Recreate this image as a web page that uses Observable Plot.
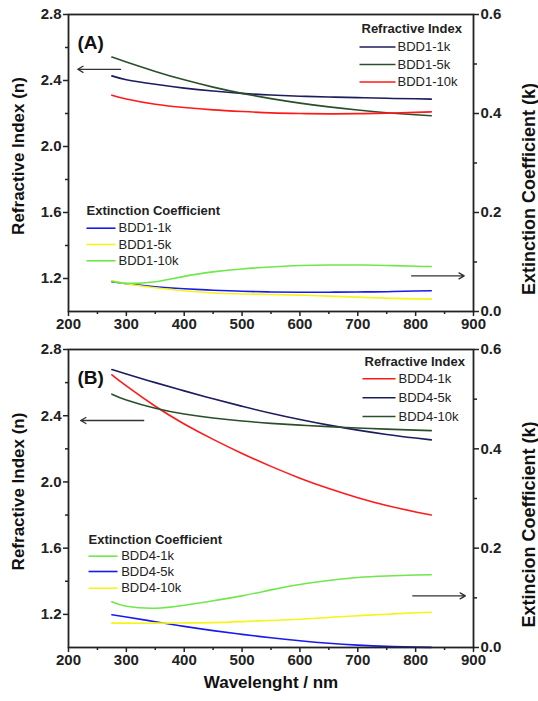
<!DOCTYPE html>
<html><head><meta charset="utf-8">
<script src="https://cdn.jsdelivr.net/npm/d3@7"></script>
<script src="https://cdn.jsdelivr.net/npm/@observablehq/plot@0.6"></script>
<style>
body{margin:0;background:#fff;}
#wrap{position:relative;width:538px;height:701px;font-family:"Liberation Sans",Arial,sans-serif;}
#wrap svg{position:absolute;left:0;overflow:visible;}
</style></head><body><div id="wrap"></div>
<script>
// ---------- data ----------
const wavelength = [275, 300, 350, 400, 450, 500, 550, 600, 650, 700, 750, 800, 827];

// Panel A – refractive index n
const nBDD1_1k  = [2.428, 2.405, 2.377, 2.354, 2.336, 2.322, 2.312, 2.305, 2.300, 2.296, 2.292, 2.289, 2.287];
const nBDD1_5k  = [2.542, 2.512, 2.455, 2.404, 2.360, 2.322, 2.290, 2.263, 2.240, 2.221, 2.205, 2.192, 2.186];
const nBDD1_10k = [2.311, 2.288, 2.256, 2.236, 2.222, 2.212, 2.204, 2.200, 2.198, 2.199, 2.202, 2.207, 2.210];
// Panel A – extinction coefficient k
const kBDD1_1k  = [0.060, 0.056, 0.050, 0.046, 0.043, 0.041, 0.0395, 0.039, 0.039, 0.0395, 0.040, 0.0415, 0.042];
const kBDD1_5k  = [0.062, 0.056, 0.048, 0.042, 0.0375, 0.0355, 0.0343, 0.033, 0.031, 0.029, 0.027, 0.0255, 0.025];
const kBDD1_10k = [0.061, 0.057, 0.060, 0.071, 0.080, 0.086, 0.090, 0.093, 0.094, 0.094, 0.093, 0.0915, 0.091];

// Panel B – refractive index n
const nBDD4_1k  = [2.647, 2.580, 2.457, 2.350, 2.257, 2.172, 2.094, 2.023, 1.960, 1.905, 1.858, 1.819, 1.800];
const nBDD4_5k  = [2.679, 2.652, 2.600, 2.550, 2.502, 2.457, 2.415, 2.377, 2.343, 2.313, 2.287, 2.265, 2.254];
const nBDD4_10k = [2.530, 2.495, 2.445, 2.410, 2.386, 2.368, 2.354, 2.343, 2.334, 2.326, 2.319, 2.313, 2.310];
// Panel B – extinction coefficient k
const kBDD4_1k  = [0.092, 0.083, 0.079, 0.085, 0.094, 0.104, 0.116, 0.127, 0.135, 0.141, 0.144, 0.146, 0.1466];
const kBDD4_5k  = [0.066, 0.0615, 0.052, 0.0425, 0.034, 0.0265, 0.0195, 0.0135, 0.0085, 0.0048, 0.0022, 0.0007, 0.0002];
const kBDD4_10k = [0.049, 0.049, 0.049, 0.0495, 0.050, 0.052, 0.0545, 0.057, 0.0605, 0.064, 0.067, 0.070, 0.071];

// ticks
const xTicks = [200, 300, 400, 500, 600, 700, 800, 900];
const xMinor = [250, 350, 450, 550, 650, 750, 850];
const nTicks = [1.2, 1.6, 2.0, 2.4, 2.8];
const nMinor = [1.4, 1.8, 2.2, 2.6];
const kTicks = [0.0, 0.2, 0.4, 0.6];
const kMinor = [0.1, 0.3, 0.5];

// arrows (data units: wavelength, and n or k)
const arrowsA = [{x1: 290, x2: 216, axis: "n", v: 2.468}, {x1: 793, x2: 884, axis: "k", v: 0.072}];
const arrowsB = [{x1: 330, x2: 221, axis: "n", v: 2.371}, {x1: 795, x2: 886, axis: "k", v: 0.104}];

// ---------- styles ----------
const NAVY = "#1c1c5e", DKGREEN = "#2a4f2a", RED = "#ff1a1a", BLUE = "#1a1aee", YELLOW = "#f5f51a", LGREEN = "#6ee84a";

const panels = [
  {
    tag: "(A)", top: 0, height: 335, mTop: 14, mBottom: 24, rightTitle: "Extinction Coefficient (k)", xTitle: null,
    n: [["BDD1-1k", nBDD1_1k, NAVY], ["BDD1-5k", nBDD1_5k, DKGREEN], ["BDD1-10k", nBDD1_10k, RED]],
    k: [["BDD1-1k", kBDD1_1k, BLUE], ["BDD1-5k", kBDD1_5k, YELLOW], ["BDD1-10k", kBDD1_10k, LGREEN]],
    arrows: arrowsA,
    legN: {title: [361, 28], line: [359, 395], text: 397, rows: [46.5, 64, 81.5]},
    legK: {title: [86, 210.7], line: [86, 115], text: 118, rows: [227.7, 244, 260.3]}
  },
  {
    tag: "(B)", top: 335, height: 366, mTop: 14, mBottom: 54, rightTitle: "Extincion Coefficient (k)", xTitle: "Wavelenght / nm",
    n: [["BDD4-1k", nBDD4_1k, RED], ["BDD4-5k", nBDD4_5k, NAVY], ["BDD4-10k", nBDD4_10k, DKGREEN]],
    k: [["BDD4-1k", kBDD4_1k, LGREEN], ["BDD4-5k", kBDD4_5k, BLUE], ["BDD4-10k", kBDD4_10k, YELLOW]],
    arrows: arrowsB,
    legN: {title: [364, 361], line: [362, 395], text: 398, rows: [378.3, 397.3, 416]},
    legK: {title: [88, 539], line: [88, 117], text: 120.7, rows: [555.7, 571, 587.7]}
  }
];

const W = 538, mL = 68, mR = 65;
const kToN = k => 1 + k * 3; // k-axis [0,0.6] shares the frame with n-axis [1.0,2.8]
const FONT = "Liberation Sans, Arial, sans-serif";

const wrap = document.getElementById("wrap");

for (const p of panels) {
  const plotH = p.height - p.mTop - p.mBottom;
  // page pixel -> data (for in-frame annotations)
  const pxToX = px => 200 + (px - mL) / (W - mL - mR) * 700;
  const pyToN = py => 2.8 - (py - p.top - p.mTop) / plotH * 1.8;

  const rows = [];
  for (const [name, vals] of p.n) wavelength.forEach((w, i) => rows.push({s: "n" + name, x: w, y: vals[i]}));
  for (const [name, vals] of p.k) wavelength.forEach((w, i) => rows.push({s: "k" + name, x: w, y: kToN(vals[i])}));
  const colorDomain = [...p.n.map(d => "n" + d[0]), ...p.k.map(d => "k" + d[0])];
  const colorRange = [...p.n.map(d => d[2]), ...p.k.map(d => d[2])];

  const legendMarks = [];
  for (const [leg, entries, title] of [[p.legN, p.n, "Refractive Index"], [p.legK, p.k, "Extinction Coefficient"]]) {
    legendMarks.push(Plot.text([title], {x: pxToX(leg.title[0]), y: pyToN(leg.title[1]), text: d => d, textAnchor: "start",
      fontSize: 13, fontWeight: "bold", fill: "#222"}));
    const items = entries.map((e, i) => ({label: e[0], color: e[2], row: leg.rows[i]}));
    legendMarks.push(Plot.link(items, {x1: pxToX(leg.line[0]), x2: pxToX(leg.line[1]), y1: d => pyToN(d.row), y2: d => pyToN(d.row),
      stroke: d => d.color, strokeWidth: 1.6}));
    legendMarks.push(Plot.text(items, {x: pxToX(leg.text), y: d => pyToN(d.row), text: "label", textAnchor: "start",
      fontSize: 13, fill: "#222"}));
  }

  const chart = Plot.plot({
    width: W, height: p.height,
    marginLeft: mL, marginRight: mR, marginTop: p.mTop, marginBottom: p.mBottom,
    style: {fontFamily: FONT, color: "#222", background: "transparent", overflow: "visible"},
    x: {domain: [200, 900]},
    y: {domain: [1.0, 2.8]},
    color: {domain: colorDomain, range: colorRange},
    marks: [
      Plot.line(rows, {x: "x", y: "y", z: "s", stroke: "s", strokeWidth: 1.6, curve: "natural"}),
      Plot.arrow(p.arrows, {x1: "x1", x2: "x2", y1: d => d.axis === "n" ? d.v : kToN(d.v), y2: d => d.axis === "n" ? d.v : kToN(d.v),
        stroke: "#333", strokeWidth: 1.3, headLength: 7}),
      ...legendMarks,
      Plot.frame({stroke: "#222", strokeWidth: 1.8}),
      Plot.axisX({ticks: xTicks, tickSize: 5, tickPadding: 2, tickFormat: d => String(d), label: null, fontSize: 15, fontWeight: "bold", strokeWidth: 1.5}),
      Plot.axisX({ticks: xMinor, tickSize: 3, tickFormat: () => "", label: null, strokeWidth: 1.5}),
      Plot.axisY({ticks: nTicks, tickSize: 5, tickPadding: 2, tickFormat: d => d.toFixed(1), label: null, fontSize: 15, fontWeight: "bold", strokeWidth: 1.5}),
      Plot.axisY({ticks: nMinor, tickSize: 3, tickFormat: () => "", label: null, strokeWidth: 1.5}),
      Plot.axisY({anchor: "right", ticks: kTicks.map(kToN), tickSize: 5, tickPadding: 2, tickFormat: d => ((d - 1) / 3).toFixed(1), label: null, fontSize: 15, fontWeight: "bold", strokeWidth: 1.5}),
      Plot.axisY({anchor: "right", ticks: kMinor.map(kToN), tickSize: 3, tickFormat: () => "", label: null, strokeWidth: 1.5}),
      Plot.text([p.tag], {frameAnchor: "top-left", dx: 9, dy: 21, text: d => d, textAnchor: "start", fontSize: 19, fontWeight: "bold", fill: "#111"}),
      Plot.text(["Refractive Index (n)"], {frameAnchor: "left", dx: -50, dy: -7, rotate: -90, textAnchor: "middle", text: d => d, fontSize: 17, fontWeight: "bold", fill: "#111"}),
      Plot.text([p.rightTitle], {frameAnchor: "right", dx: 56, dy: 26, rotate: -90, textAnchor: "middle", text: d => d, fontSize: 18, fontWeight: "bold", fill: "#111"}),
      ...(p.xTitle ? [Plot.text([p.xTitle], {frameAnchor: "bottom", dy: 40, text: d => d, fontSize: 17, fontWeight: "bold", fill: "#111"})] : [])
    ]
  });
  chart.style.top = p.top + "px";
  wrap.appendChild(chart);
}
</script>
</body></html>
